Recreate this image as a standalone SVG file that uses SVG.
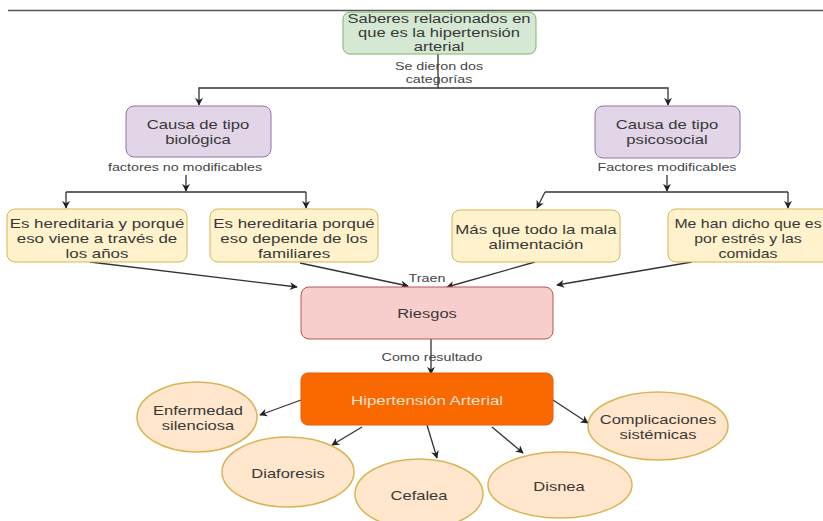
<svg xmlns="http://www.w3.org/2000/svg" width="823" height="521" viewBox="0 0 823 521">
<style>
text{font-family:"Liberation Sans",Arial,sans-serif;fill:#383838;text-anchor:middle}
.t{font-size:13px}
.tt{font-size:12px}
.l{font-size:11px;fill:#444}
.e{stroke:#333;stroke-width:1.3;fill:none}
.g{fill:#d5e8d4;stroke:#82b366}
.p{fill:#e1d5e7;stroke:#9673a6}
.y{fill:#fff2cc;stroke:#d6b656}
.r{fill:#f8cecc;stroke:#b85450}
.o{fill:#fa6800;stroke:#e85c00}
.c{fill:#ffe6cc;stroke:#d6b656;stroke-width:1.5}
</style>
<defs>
<marker id="a" viewBox="0 0 10 10" refX="9" refY="5" markerWidth="8" markerHeight="8" markerUnits="userSpaceOnUse" orient="auto">
<path d="M0,0 L10,5 L0,10 L3,5 Z" fill="#222"/>
</marker>
</defs>
<rect width="823" height="521" fill="#fff"/>
<line x1="8" y1="10.5" x2="823" y2="10.5" stroke="#555" stroke-width="1.5"/>
<g id="connectors">
<path class="e" d="M438,53 V88 H199 V105" marker-end="url(#a)"/>
<path class="e" d="M438,88 H668 V105" marker-end="url(#a)"/>
<path class="e" d="M186,175 V191" marker-end="url(#a)"/>
<path class="e" d="M66,192 H306"/>
<path class="e" d="M66,192 V208" marker-end="url(#a)"/>
<path class="e" d="M306,192 V208" marker-end="url(#a)"/>
<path class="e" d="M667,175 V191" marker-end="url(#a)"/>
<path class="e" d="M545,192 H788"/>
<path class="e" d="M545,192 L537,208" marker-end="url(#a)"/>
<path class="e" d="M788,192 V208" marker-end="url(#a)"/>
<path class="e" d="M90,262 L297,287" marker-end="url(#a)"/>
<path class="e" d="M300,263 L408,286" marker-end="url(#a)"/>
<path class="e" d="M535,262 L447,287" marker-end="url(#a)"/>
<path class="e" d="M692,262 L557,285" marker-end="url(#a)"/>
<path class="e" d="M431,339 V374" marker-end="url(#a)"/>
<path class="e" d="M301,400 L260,415" marker-end="url(#a)"/>
<path class="e" d="M362,427 L332,445" marker-end="url(#a)"/>
<path class="e" d="M427,425 L437,458" marker-end="url(#a)"/>
<path class="e" d="M492,427 L523,453" marker-end="url(#a)"/>
<path class="e" d="M553,400 L588,423" marker-end="url(#a)"/>
<g transform="translate(439,0) scale(1.3,1)">
<text class="l" x="0" y="70">Se dieron dos</text>
<text class="l" x="0" y="83">categorías</text>
</g>
<text class="l" transform="translate(185,171) scale(1.3,1)">factores no modificables</text>
<text class="l" transform="translate(667,171) scale(1.3,1)">Factores modificables</text>
<text class="l" transform="translate(427,282) scale(1.3,1)">Traen</text>
<text class="l" transform="translate(432,361) scale(1.3,1)">Como resultado</text>
</g>
<g id="n-saberes">
<rect class="g" x="343" y="12" width="193" height="42" rx="7"/>
<g transform="translate(439,0) scale(1.38,1)">
<text class="tt" x="0" y="23">Saberes relacionados en</text>
<text class="tt" x="0" y="37">que es la hipertensión</text>
<text class="tt" x="0" y="51">arterial</text>
</g>
</g>
<g id="n-biologica">
<rect class="p" x="126" y="106" width="145" height="51" rx="8"/>
<g transform="translate(198,0) scale(1.28,1)">
<text class="t" x="0" y="129.5">Causa de tipo</text>
<text class="t" x="0" y="144.5">biológica</text>
</g>
</g>
<g id="n-psicosocial">
<rect class="p" x="595" y="106" width="145" height="52" rx="8"/>
<g transform="translate(667,0) scale(1.28,1)">
<text class="t" x="0" y="129.5">Causa de tipo</text>
<text class="t" x="0" y="144.5">psicosocial</text>
</g>
</g>
<g id="n-h1">
<rect class="y" x="7" y="209" width="180" height="53" rx="8"/>
<g transform="translate(97,0) scale(1.3,1)">
<text class="t" x="0" y="228">Es hereditaria y porqué</text>
<text class="t" x="0" y="243">eso viene a través de</text>
<text class="t" x="0" y="258">los años</text>
</g>
</g>
<g id="n-h2">
<rect class="y" x="210" y="209" width="168" height="53" rx="8"/>
<g transform="translate(294,0) scale(1.3,1)">
<text class="t" x="0" y="228">Es hereditaria porqué</text>
<text class="t" x="0" y="243">eso depende de los</text>
<text class="t" x="0" y="258">familiares</text>
</g>
</g>
<g id="n-m1">
<rect class="y" x="452" y="210" width="168" height="52" rx="8"/>
<g transform="translate(536,0) scale(1.3,1)">
<text class="t" x="0" y="234">Más que todo la mala</text>
<text class="t" x="0" y="249">alimentación</text>
</g>
</g>
<g id="n-m2">
<rect class="y" x="668" y="209" width="165" height="53" rx="8"/>
<g transform="translate(748,0) scale(1.22,1)">
<text class="t" x="0" y="228">Me han dicho que es</text>
<text class="t" x="0" y="243">por estrés y las</text>
<text class="t" x="0" y="258">comidas</text>
</g>
</g>
<g id="n-riesgos">
<rect class="r" x="301" y="287" width="252" height="52" rx="8"/>
<text class="t" transform="translate(427,318) scale(1.27,1)">Riesgos</text>
</g>
<g id="n-hta">
<rect class="o" x="301" y="373" width="252" height="52" rx="7"/>
<text class="t" transform="translate(427,405) scale(1.3,1)" style="fill:#fde3cf">Hipertensión Arterial</text>
</g>
<g id="n-enfermedad">
<ellipse class="c" cx="197" cy="417" rx="60" ry="35"/>
<g transform="translate(198,0) scale(1.27,1)">
<text class="t" x="0" y="415">Enfermedad</text>
<text class="t" x="0" y="430">silenciosa</text>
</g>
</g>
<g id="n-diaforesis">
<ellipse class="c" cx="288" cy="472" rx="66" ry="35"/>
<text class="t" transform="translate(288,478) scale(1.27,1)">Diaforesis</text>
</g>
<g id="n-cefalea">
<ellipse class="c" cx="419" cy="494" rx="64" ry="35"/>
<text class="t" transform="translate(419,500) scale(1.27,1)">Cefalea</text>
</g>
<g id="n-disnea">
<ellipse class="c" cx="560" cy="485" rx="72" ry="33"/>
<text class="t" transform="translate(559,491) scale(1.27,1)">Disnea</text>
</g>
<g id="n-complicaciones">
<ellipse class="c" cx="658" cy="426" rx="70" ry="34"/>
<g transform="translate(658,0) scale(1.27,1)">
<text class="t" x="0" y="424">Complicaciones</text>
<text class="t" x="0" y="439">sistémicas</text>
</g>
</g>
</svg>
